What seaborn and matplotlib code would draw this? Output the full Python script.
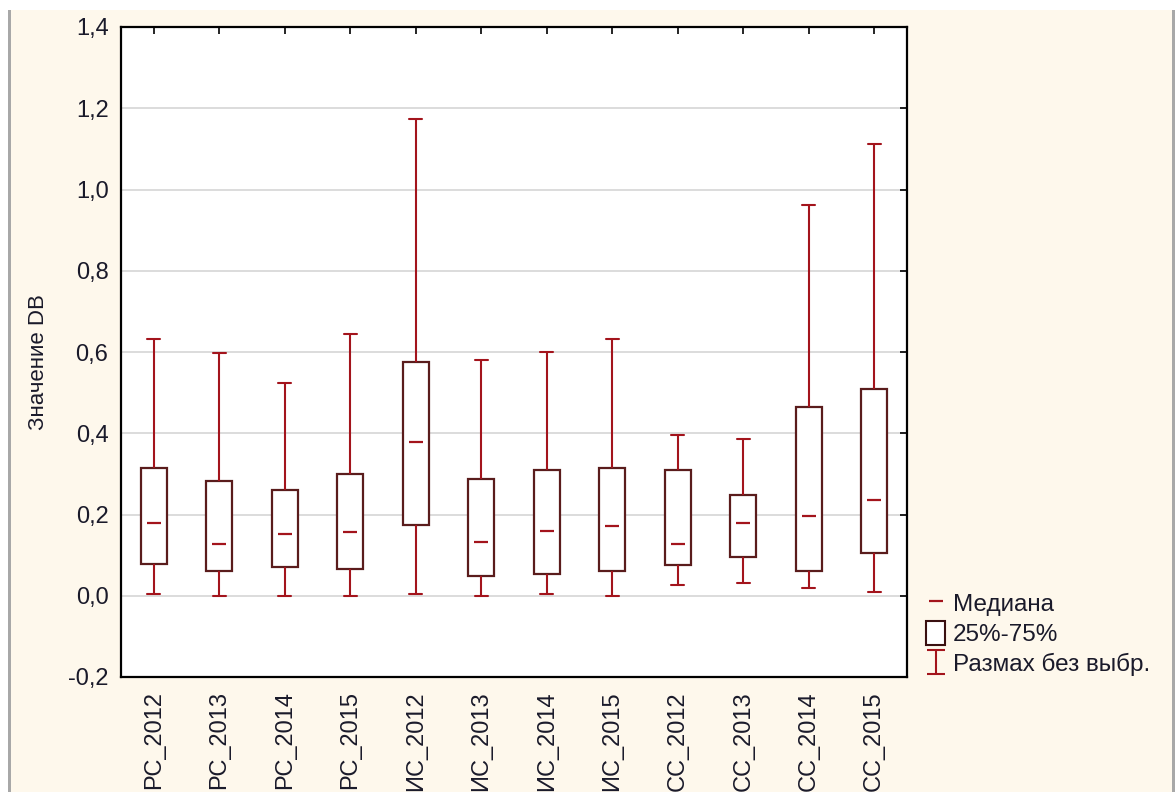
import numpy as np
import pandas as pd
import matplotlib
matplotlib.use("Agg")
import matplotlib.pyplot as plt
import seaborn as sns
from matplotlib.lines import Line2D
from matplotlib.patches import Patch, Rectangle
from matplotlib.path import Path
from matplotlib.ticker import FuncFormatter

categories = ["РС_2012", "РС_2013", "РС_2014", "РС_2015",
              "ИС_2012", "ИС_2013", "ИС_2014", "ИС_2015",
              "СС_2012", "СС_2013", "СС_2014", "СС_2015"]
whisker_low = [0.005, 0.000, 0.000, 0.000, 0.005, 0.000, 0.005, 0.000, 0.027, 0.031, 0.018, 0.010]
q1 = [0.078, 0.060, 0.070, 0.065, 0.174, 0.049, 0.054, 0.061, 0.075, 0.096, 0.061, 0.105]
median = [0.179, 0.127, 0.152, 0.156, 0.378, 0.133, 0.160, 0.172, 0.127, 0.179, 0.197, 0.235]
q3 = [0.314, 0.283, 0.260, 0.300, 0.575, 0.287, 0.310, 0.314, 0.310, 0.247, 0.465, 0.508]
whisker_high = [0.631, 0.597, 0.523, 0.644, 1.174, 0.580, 0.600, 0.631, 0.396, 0.387, 0.961, 1.112]
yticks = [-0.2, 0.0, 0.2, 0.4, 0.6, 0.8, 1.0, 1.2, 1.4]
ylabel = "Значение DB"
legend_labels = ["Медиана", "25%-75%", "Размах без выбр."]

RED = "#a3141c"
BOXEDGE = "#5a1c1c"
TEXT = "#1a1a2a"
BG = "#fef8ec"
FS = 17

sns.set_theme(style="white")
plt.rcParams["font.family"] = ["Liberation Sans", "DejaVu Sans"]

fig = plt.figure(figsize=(11.75, 7.92), dpi=100, facecolor=BG)
# window decorations
fig.patches.append(Rectangle((0, 1 - 10 / 792), 1, 10 / 792, transform=fig.transFigure,
                             facecolor="white", edgecolor="none", zorder=0))
fig.patches.append(Rectangle((0, 0), 8 / 1175, 1, transform=fig.transFigure,
                             facecolor="white", edgecolor="none", zorder=0))
fig.patches.append(Rectangle((8 / 1175, 0), 3 / 1175, 1 - 10 / 792, transform=fig.transFigure,
                             facecolor="#a8a8a8", edgecolor="none", zorder=0))
fig.patches.append(Rectangle((1172 / 1175, 0), 3 / 1175, 1 - 10 / 792, transform=fig.transFigure,
                             facecolor="#a8a8a8", edgecolor="none", zorder=0))

ax = fig.add_axes([121 / 1175, 1 - 677 / 792, (907 - 121) / 1175, (677 - 27) / 792])
ax.set_facecolor("white")

df = pd.DataFrame({
    "group": np.repeat(categories, 5),
    "value": np.column_stack([whisker_low, q1, median, q3, whisker_high]).ravel(),
})

sns.boxplot(data=df, x="group", y="value", order=categories, whis=(0, 100), width=0.4,
            color="white", saturation=1, linecolor=BOXEDGE, linewidth=1.6, fliersize=0, ax=ax,
            boxprops=dict(edgecolor=BOXEDGE, linewidth=1.6),
            whiskerprops=dict(color=RED, linewidth=1.5),
            capprops=dict(color=RED, linewidth=1.5),
            medianprops=dict(visible=False))

sns.pointplot(x=categories, y=median, order=categories, linestyle="none", marker="_",
              markersize=10, markeredgewidth=1.6, color=RED, errorbar=None, ax=ax)
for ln in ax.lines[-1:]:
    ln.set_zorder(5)

ax.set_xlim(-0.5, len(categories) - 0.5)
ax.set_ylim(-0.2, 1.4)
ax.set_yticks(yticks)
ax.yaxis.set_major_formatter(FuncFormatter(lambda v, p: f"{v:.1f}".replace(".", ",")))
ax.set_xlabel("")
ax.set_ylabel(ylabel, fontsize=16, color=TEXT)
ax.yaxis.set_label_coords(-0.092, 0.485)

ax.yaxis.grid(True, color="#d9d9d9", linewidth=1.3)
ax.xaxis.grid(False)
ax.set_axisbelow(True)

ax.tick_params(axis="both", direction="in", length=5, width=1.2, colors="black",
               top=True, right=True, labeltop=False, labelright=False)
ax.tick_params(axis="y", pad=9, labelsize=FS, labelcolor=TEXT)
ax.tick_params(axis="x", pad=10, labelsize=FS, labelcolor=TEXT, labelrotation=90)
for lab in ax.get_xticklabels():
    lab.set_va("top")
    lab.set_ha("center")

for sp in ax.spines.values():
    sp.set_visible(True)
    sp.set_color("black")
    sp.set_linewidth(1.6)

# legend
ipath = Path([(-0.8, 1), (0.8, 1), (0, 1), (0, -1), (-0.8, -1), (0.8, -1)],
             [Path.MOVETO, Path.LINETO, Path.MOVETO, Path.LINETO, Path.MOVETO, Path.LINETO])
handles = [
    Line2D([], [], linestyle="none", marker="_", markersize=10, markeredgewidth=1.6, color=RED),
    Patch(facecolor="white", edgecolor="#3a1010", linewidth=1.5),
    Line2D([], [], linestyle="none", marker=ipath, markersize=17, markeredgewidth=1.5,
           markerfacecolor="none", color=RED),
]
leg = fig.legend(handles, legend_labels, loc="upper left",
                 bbox_to_anchor=(926 / 1175, 1 - 591 / 792), frameon=False,
                 fontsize=17.5, handlelength=0.8, handleheight=1.1, handletextpad=0.3,
                 labelspacing=0.22, borderpad=0.0, borderaxespad=0.0)
for t in leg.get_texts():
    t.set_color(TEXT)

fig.savefig("out.png", dpi=100, facecolor=BG)
